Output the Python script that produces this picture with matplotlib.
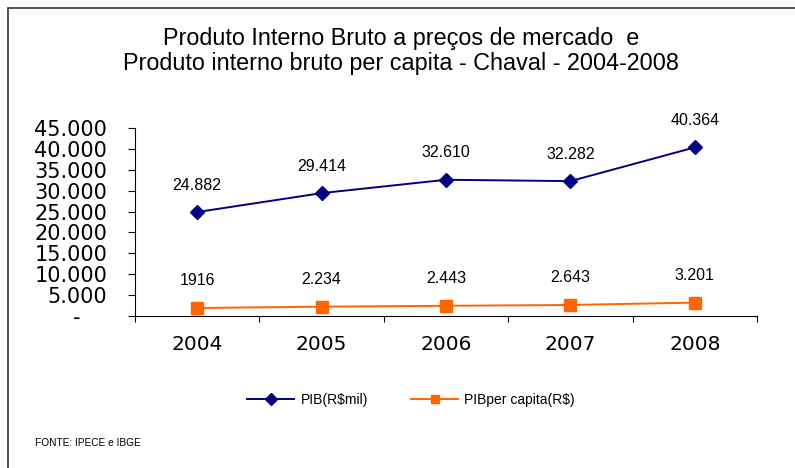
import matplotlib.pyplot as plt
from matplotlib.patches import Rectangle

plt.rcParams['font.family'] = ['Liberation Sans', 'DejaVu Sans']

anos = ['2004', '2005', '2006', '2007', '2008']
pib = [24882, 29414, 32610, 32282, 40364]
pib_capita = [1916, 2234, 2443, 2643, 3201]
rot_pib = ['24.882', '29.414', '32.610', '32.282', '40.364']
rot_capita = ['1916', '2.234', '2.443', '2.643', '3.201']
yticks = [0, 5000, 10000, 15000, 20000, 25000, 30000, 35000, 40000, 45000]
ytick_labels = ['-    ', '5.000', '10.000', '15.000', '20.000', '25.000',
                '30.000', '35.000', '40.000', '45.000']

W, H = 795, 468
fig = plt.figure(figsize=(W / 100, H / 100), dpi=100)
fig.patch.set_facecolor('white')

# moldura da area do grafico (sai pela direita e por baixo)
fig.patches.append(Rectangle((8 / W, -0.05), 1.1, 1.05 - 8 / H,
                             transform=fig.transFigure, fill=False,
                             edgecolor='#444444', lw=1.3))

ax = fig.add_axes([135 / W, 1 - 316 / H, (757 - 135) / W, (316 - 128) / H])
x = list(range(len(anos)))

ax.plot(x, pib, color='#000080', marker='D', markersize=7.5, lw=1.4,
        label='PIB(R$mil)')
ax.plot(x, pib_capita, color='#FF6600', marker='s', markersize=8, lw=1.4,
        label='PIBper capita(R$)')

for xi, v, t in zip(x, pib, rot_pib):
    ax.annotate(t, (xi, v), xytext=(0, 27), textcoords='offset pixels',
                ha='center', va='center', fontsize=11.5)
for xi, v, t in zip(x, pib_capita, rot_capita):
    ax.annotate(t, (xi, v), xytext=(0, 27), textcoords='offset pixels',
                ha='center', va='center', fontsize=11.5)

ax.set_xlim(-0.5, 4.5)
ax.set_ylim(0, 45000)
ax.set_yticks(yticks)
ax.set_yticklabels(ytick_labels, fontsize=15, family='DejaVu Sans')
ax.set_xticks([i - 0.5 for i in range(6)])
ax.set_xticklabels([])
ax.set_xticks(x, minor=True)
ax.set_xticklabels(anos, minor=True, fontsize=14.5, family='DejaVu Sans')
ax.tick_params(axis='x', which='minor', length=0, pad=14)
ax.tick_params(axis='x', which='major', length=4.5, direction='out')
ax.tick_params(axis='y', length=5, direction='out', pad=15)
for s in ['top', 'right']:
    ax.spines[s].set_visible(False)

fig.text(401 / W, 1 - 51 / H,
         'Produto Interno Bruto a preços de mercado  e\n'
         'Produto interno bruto per capita - Chaval - 2004-2008',
         fontsize=16.8, linespacing=1.12, ha='center', va='center')

fig.legend(loc='center', bbox_to_anchor=(411 / W, 1 - 400 / H), ncol=2,
           frameon=False, fontsize=10, handlelength=3.4, columnspacing=3.1,
           handletextpad=0.45, markerscale=0.75)

fig.text(35 / W, 1 - 443 / H, 'FONTE: IPECE e IBGE', fontsize=7.3,
         va='center', ha='left')

fig.savefig('out.png', dpi=100)
